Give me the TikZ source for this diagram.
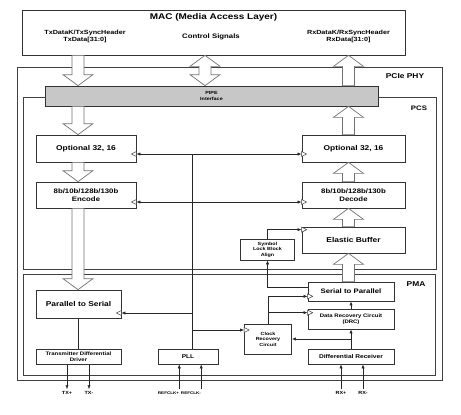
\documentclass[tikz,border=0pt]{standalone}
\usepackage{fontspec}
\setmainfont{Liberation Sans}[FakeStretch=1.2]
\usetikzlibrary{arrows.meta,calc}

% hollow block arrows between two points on one vertical
\newcommand{\fatarrow}[2]{%
  \draw[fat] let \p1=#1, \p2=#2, \n1={sign(\y2-\y1)} in
    (\x1-6pt,\y1) -- (\x1-6pt,\y2-\n1*11pt) -- (\x1-15pt,\y2-\n1*11pt) -- (\x2,\y2)
    -- (\x1+15pt,\y2-\n1*11pt) -- (\x1+6pt,\y2-\n1*11pt) -- (\x1+6pt,\y1) -- cycle;}
\newcommand{\fatboth}[2]{%
  \draw[fat] let \p1=#1, \p2=#2, \n1={sign(\y2-\y1)} in
    (\x1,\y1) -- (\x1+15pt,\y1+\n1*11pt) -- (\x1+6pt,\y1+\n1*11pt) -- (\x1+6pt,\y2-\n1*11pt)
    -- (\x1+15pt,\y2-\n1*11pt) -- (\x2,\y2) -- (\x1-15pt,\y2-\n1*11pt) -- (\x1-6pt,\y2-\n1*11pt)
    -- (\x1-6pt,\y1+\n1*11pt) -- (\x1-15pt,\y1+\n1*11pt) -- cycle;}

\begin{document}
\begin{tikzpicture}
  [x=1pt, y=-1pt,
  every node/.style={inner sep=0pt, font=\bfseries},
  fs/.style n args={2}{font=\fontsize{#1}{#2}\selectfont\bfseries},
  box/.style={draw=black!80, line width=0.7pt, align=center},
  frame/.style={draw=black!75, line width=0.8pt},
  fat/.style={draw=black!55, fill=white, line width=0.7pt},
  sig/.style={draw=black!85, line width=0.6pt},
  sigarr/.style={sig, -{Latex[length=4pt,width=3.2pt]}},
  sigboth/.style={sig, {Latex[length=4pt,width=3.2pt]}-{Latex[length=4pt,width=3.2pt]}},
  pin/.style={fs={4.5}{5}, inner ysep=2pt},
  clk/.pic={\draw[black!80, fill=white, line width=0.5pt] (0,-2.5) -- (5,0) -- (0,2.5) -- cycle;},
  ]
  \useasboundingbox (0,0) rectangle (461,415);

  % MAC
  \node[box, minimum width=383pt, minimum height=45pt] (mac) at (213.5,32.5) {};
  \node[fs={8.3}{10}] (mactitle) at (213.5,17) {MAC (Media Access Layer)};
  \node[fs={6}{7}, align=center] (txsig) at (85,36) {TxDataK/TxSyncHeader\\TxData[31:0]};
  \node[fs={6.5}{8}] (ctlsig) at (211,37) {Control Signals};
  \node[fs={6}{7}, align=center] (rxsig) at (348.5,36) {RxDataK/RxSyncHeader\\RxData[31:0]};

  % PHY, PCS, PMA frames
  \node[frame, minimum width=425pt, minimum height=313pt] (phy) at (229.5,223.5) {};
  \node[fs={7}{8}] (phylabel) at (405,76) {PCIe PHY};
  \node[frame, minimum width=413pt, minimum height=172pt] (pcs) at (229.5,183) {};
  \node[fs={6.5}{8}] (pcslabel) at (419,108) {PCS};
  \node[box, fill=black!22, minimum width=333pt, minimum height=20pt, fs={4.5}{5.5}] (pipe) at (211.5,96) {PIPE\\Interface};
  \node[frame, minimum width=412pt, minimum height=101pt] (pma) at (229,324.5) {};
  \node[fs={7}{8}] (pmalabel) at (416,284) {PMA};

  % PCS blocks
  \node[box, minimum width=100pt, minimum height=27pt, fs={7}{8}] (opttx) at (86,148.5) {Optional 32, 16};
  \node[box, minimum width=103pt, minimum height=27pt, fs={7}{8}] (optrx) at (353.5,148.5) {Optional 32, 16};
  \node[box, minimum width=100pt, minimum height=26pt, fs={6.5}{7.5}] (enc) at (86,195) {8b/10b/128b/130b\\Encode};
  \node[box, minimum width=103pt, minimum height=26pt, fs={6.5}{7.5}] (dec) at (353.5,195) {8b/10b/128b/130b\\Decode};
  \node[box, minimum width=103pt, minimum height=26pt, fs={7}{8}] (elastic) at (353.5,240) {Elastic Buffer};
  \node[box, minimum width=54pt, minimum height=21pt, fs={4.5}{5.5}] (symbol) at (267.5,249.5) {Symbol\\Lock Block\\Align};

  % PMA blocks
  \node[box, minimum width=86pt, minimum height=19pt, fs={6.5}{7.5}] (s2p) at (351,291.5) {Serial to Parallel};
  \node[box, minimum width=86pt, minimum height=20pt, fs={5}{6}] (drc) at (351,319) {Data Recovery Circuit\\(DRC)};
  \node[box, minimum width=47pt, minimum height=30pt, fs={4.5}{5.5}] (crc) at (268,339) {Clock\\Recovery\\Circuit};
  \node[box, minimum width=86pt, minimum height=15pt, fs={5.5}{6.5}] (diffrx) at (351,356.5) {Differential Receiver};
  \node[box, minimum width=60pt, minimum height=15pt, fs={5.5}{6.5}] (pll) at (188,356.5) {PLL};
  \node[box, minimum width=85pt, minimum height=28pt, fs={7}{8}] (p2s) at (78.5,304) {Parallel to Serial};
  \node[box, minimum width=85pt, minimum height=15pt, fs={5}{5.8}] (txdrv) at (78.5,356.5) {Transmitter Differential\\Driver};

  % pins
  \node[pin] (txp) at (67,393) {TX+};
  \node[pin] (txn) at (89,393) {TX-};
  \node[pin, fs={3.8}{4.5}] (refp) at (168.5,393) {REFCLK+};
  \node[pin, fs={3.8}{4.5}] (refn) at (191,393) {REFCLK-};
  \node[pin] (rxp) at (341,393) {RX+};
  \node[pin] (rxn) at (363,393) {RX-};

  \coordinate (txcol) at (78,0);
  \coordinate (ctlcol) at (205,0);
  \coordinate (rxcol) at (348.5,0);
  \coordinate (b1) at (192,154);
  \coordinate (b2) at (192,202);
  \coordinate (b3) at (192,313);
  \coordinate (b4) at (192,330);
  \coordinate (ebclk) at ([yshift=-3pt]elastic.north west);
  \coordinate (spclk) at ([yshift=5pt]s2p.south west);
  \coordinate (drcclk) at ([yshift=-4pt]drc.north west);

  % clock bus from the PLL
  \draw[sig] (b1) -- (b1 |- pll.north);
  \draw[sigboth] (b1 -| opttx.east) -- (b1 -| optrx.west);
  \draw[sigboth] (b2 -| enc.east) -- (b2 -| dec.west);
  \draw[sigarr] (b3) -- (b3 -| p2s.east);
  \draw[sigarr] (b4) -- (b4 -| crc.west);

  % receive side
  \draw[sigarr] (symbol.north) |- (ebclk);
  \draw[sigarr] ([yshift=-6pt]s2p.north west) -| (symbol.south);
  \draw[sigarr] (crc.north) |- (spclk);
  \draw[sigarr] (crc.north |- drcclk) -- (drcclk);
  \draw[sigarr] (drc.north) -- (s2p.south);
  \draw[sigarr] (diffrx.north) -- (drc.south);
  \draw[sigarr] (diffrx.north |- crc.east) -- (crc.east);

  % transmit side
  \draw[sig] (p2s.south) -- (txdrv.north);
  \draw[sigarr] (txdrv.south -| txp) -- (txp.north);
  \draw[sigarr] (txdrv.south -| txn) -- (txn.north);
  \draw[sigarr] (refp.north east) -- (refp.north east |- pll.south);
  \draw[sigarr] (refn.north east) -- (refn.north east |- pll.south);
  \draw[sigarr] (rxp.north) -- (rxp.north |- diffrx.south);
  \draw[sigarr] (rxn.north) -- (rxn.north |- diffrx.south);

  % clock inputs
  \pic[rotate=180] at (b1 -| opttx.east) {clk};
  \pic at (b1 -| optrx.west) {clk};
  \pic[rotate=180] at (b2 -| enc.east) {clk};
  \pic at (b2 -| dec.west) {clk};
  \pic[rotate=180] at (b3 -| p2s.east) {clk};
  \pic at (b4 -| crc.west) {clk};
  \pic at (ebclk) {clk};
  \pic at (spclk) {clk};
  \pic at (drcclk) {clk};

  % data paths
  \fatarrow{(txcol |- mac.south)}{(txcol |- pipe.north)}
  \fatboth{(ctlcol |- mac.south)}{(ctlcol |- pipe.north)}
  \fatarrow{(rxcol |- pipe.north)}{(rxcol |- mac.south)}
  \fatarrow{(txcol |- pipe.south)}{(txcol |- opttx.north)}
  \fatarrow{(rxcol |- optrx.north)}{(rxcol |- pipe.south)}
  \fatarrow{(txcol |- opttx.south)}{(txcol |- enc.north)}
  \fatarrow{(rxcol |- dec.north)}{(rxcol |- optrx.south)}
  \fatarrow{(txcol |- enc.south)}{(txcol |- p2s.north)}
  \fatarrow{(rxcol |- elastic.north)}{(rxcol |- dec.south)}
  \fatarrow{(rxcol |- s2p.north)}{(rxcol |- elastic.south)}
\end{tikzpicture}
\end{document}
